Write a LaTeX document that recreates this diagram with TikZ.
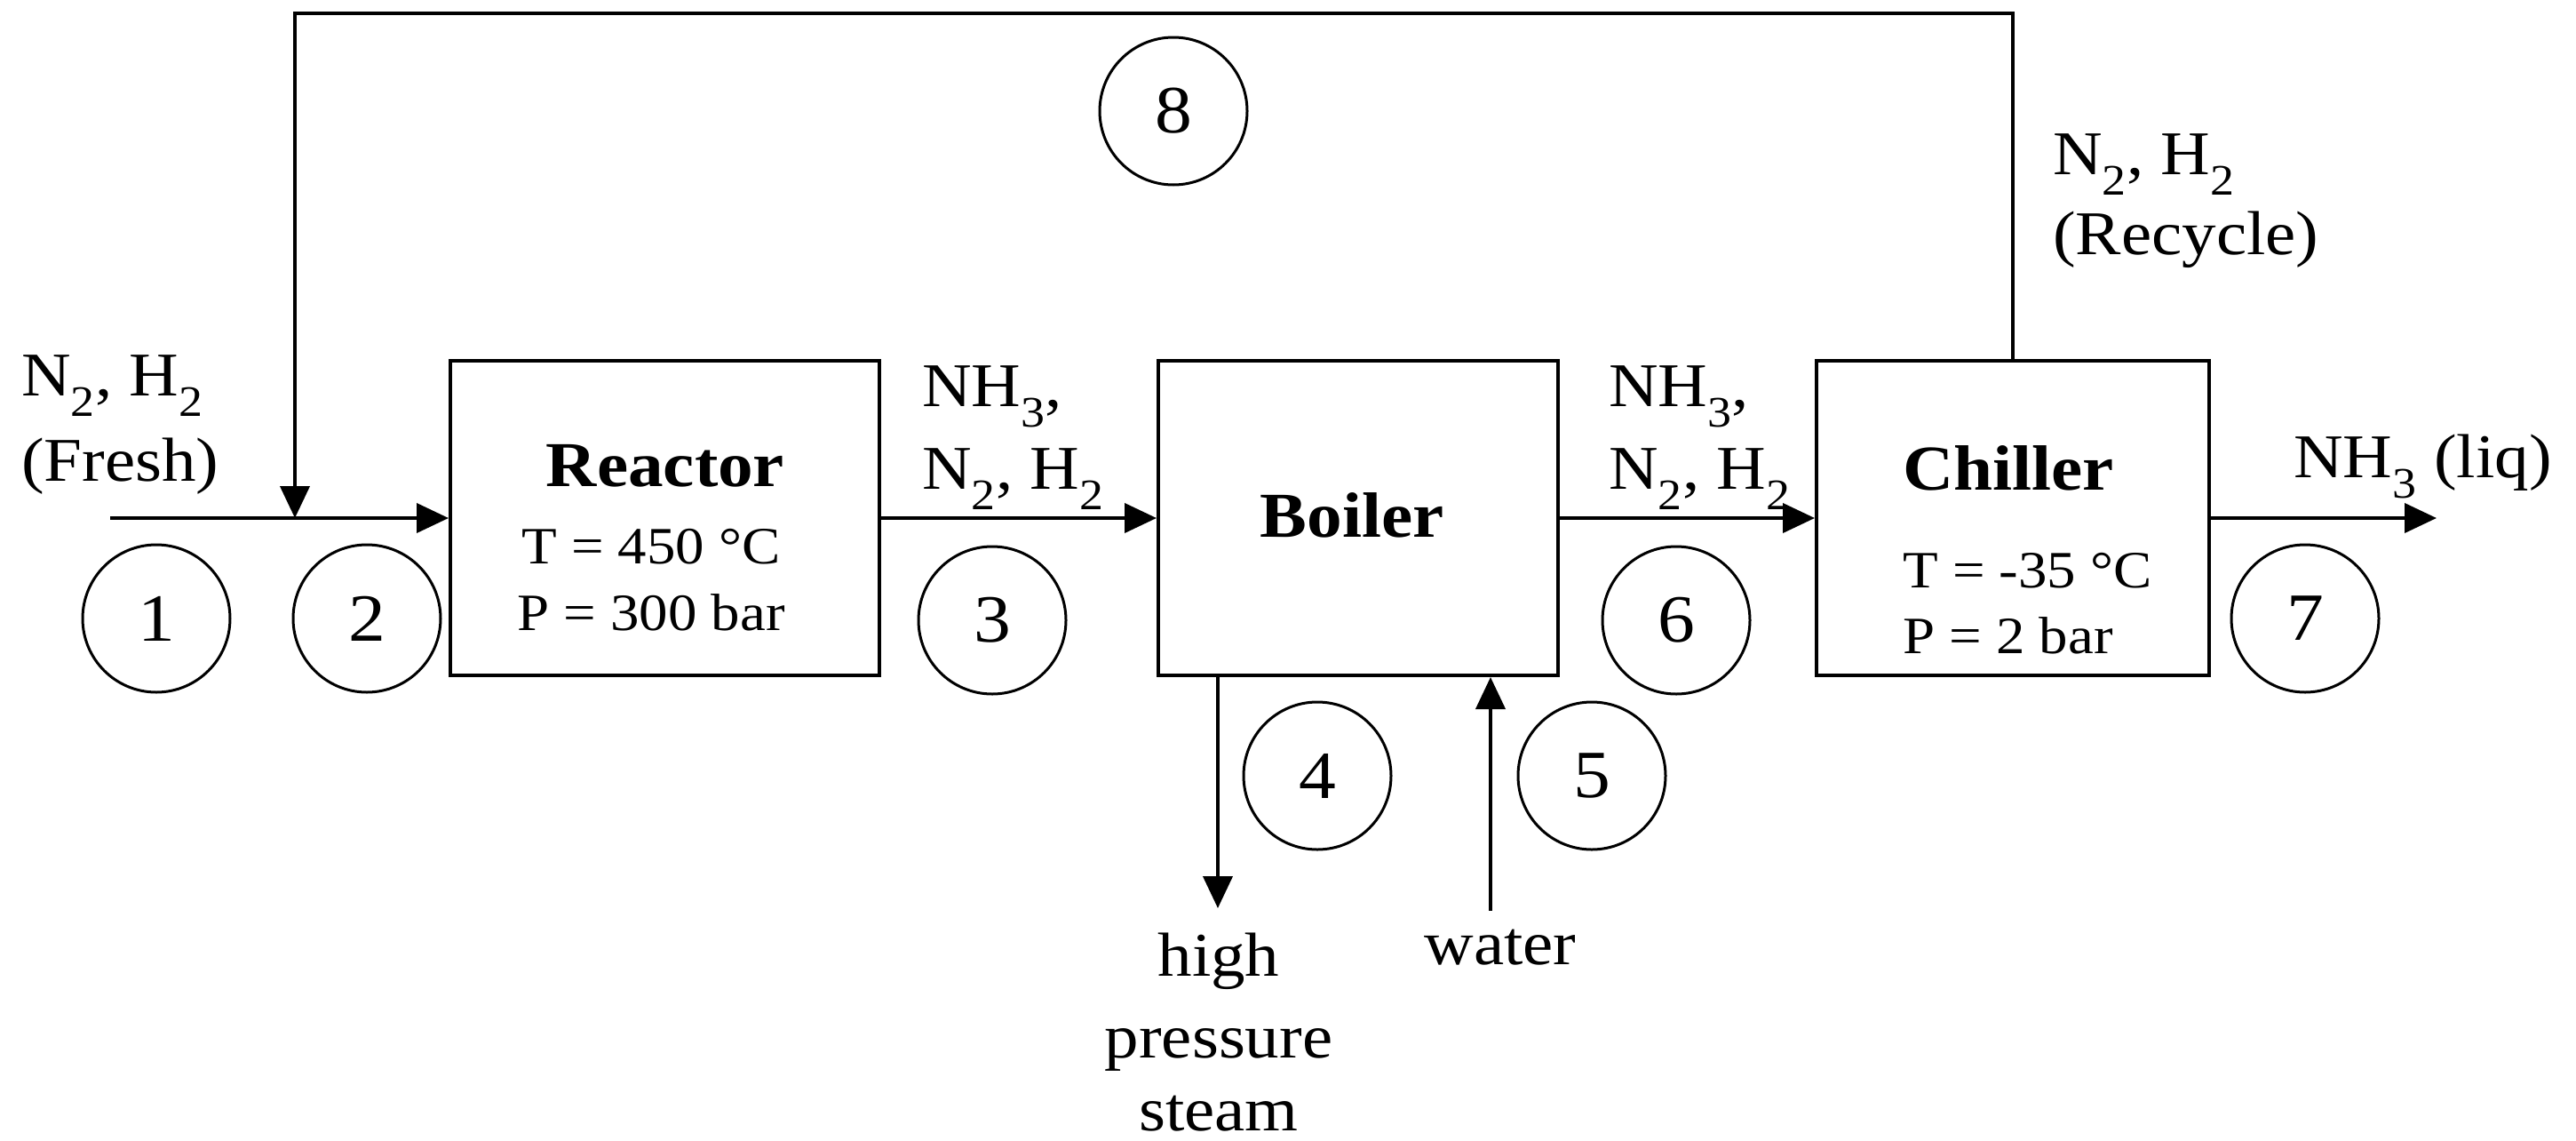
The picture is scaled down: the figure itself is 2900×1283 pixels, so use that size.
\documentclass[tikz,border=0pt]{standalone}
\usepackage{fontspec}
\setmainfont[FakeStretch=1.1]{Liberation Serif}
\usetikzlibrary{arrows.meta}
\newcommand{\sbs}[1]{\smash{\textsubscript{#1}}}
\begin{document}
\begin{tikzpicture}[x=1pt,y=-1pt,
  unit/.style={draw, line width=4pt, inner sep=0pt},
  num/.style={draw, circle, line width=3pt, minimum size=166pt, inner sep=0pt, font=\fontsize{76}{76}\selectfont},
  flow/.style={line width=4pt, -{Triangle[length=36pt,width=33pt]}},
  lbl/.style={inner sep=0pt, font=\fontsize{70}{80}\selectfont},
  par/.style={inner sep=0pt, font=\fontsize{59}{66}\selectfont},
  ttl/.style={inner sep=0pt, font=\fontsize{72}{72}\selectfont\bfseries}]
\useasboundingbox (0,0) rectangle (2900,1283);

% units
\node[unit, minimum width=483pt, minimum height=354pt] (reactor) at (748.5,583) {};
\node[unit, minimum width=450pt, minimum height=354pt] (boiler) at (1529,583) {};
\node[unit, minimum width=442pt, minimum height=354pt] (chiller) at (2266,583) {};

% unit texts
\node[ttl, anchor=base] (reactorT) at (749,547) {Reactor};
\node[par, anchor=base] (reactorA) at (733,634) {T = 450 °C};
\node[par, anchor=base] (reactorB) at (733,709) {P = 300 bar};
\node[ttl, anchor=base] (boilerT) at (1522,604) {Boiler};
\node[ttl, anchor=base west] (chillerT) at (2142,551) {Chiller};
\node[par, anchor=base west] (chillerA) at (2142,661) {T = -35 °C};
\node[par, anchor=base west] (chillerB) at (2142,735) {P = 2 bar};

% coordinates
\coordinate (fresh) at (124,583);
\coordinate (mix) at (332,583);
\coordinate (out) at (2743,583);
\coordinate (steamEnd) at (1371,1022);
\coordinate (waterStart) at (1678,1025);

% streams
\draw[flow] (fresh) -- (reactor.west);
\draw[flow] (reactor.east) -- (boiler.west);
\draw[flow] (boiler.east) -- (chiller.west);
\draw[flow] (chiller.east) -- (out);
\draw[flow] (steamEnd |- boiler.south) -- (steamEnd);
\draw[flow] (waterStart) -- (waterStart |- boiler.south);
\draw[flow] (chiller.north) -- (chiller.north |- 0,15) -- (mix |- 0,15) -- (mix);

% stream labels
\node[lbl, anchor=base west] (fr1) at (24,445) {N\sbs{2}, H\sbs{2}};
\node[lbl, anchor=base west] (fr2) at (24,541) {(Fresh)};
\node[lbl, anchor=base west] (s3a) at (1038,457) {NH\sbs{3},};
\node[lbl, anchor=base west] (s3b) at (1038,550) {N\sbs{2}, H\sbs{2}};
\node[lbl, anchor=base west] (s6a) at (1811,457) {NH\sbs{3},};
\node[lbl, anchor=base west] (s6b) at (1811,550) {N\sbs{2}, H\sbs{2}};
\node[lbl, anchor=base west] (rc1) at (2311,196) {N\sbs{2}, H\sbs{2}};
\node[lbl, anchor=base west] (rc2) at (2311,286) {(Recycle)};
\node[lbl, anchor=base west] (liq) at (2582,537) {NH\sbs{3} (liq)};
\node[lbl, anchor=base] (st1) at (1372,1098) {high};
\node[lbl, anchor=base] (st2) at (1372,1190) {pressure};
\node[lbl, anchor=base] (st3) at (1372,1272) {steam};
\node[lbl, anchor=base] (wt) at (1689,1085) {water};

% stream numbers
\node[num] (n1) at (176,696) {1};
\node[num] (n2) at (413,696) {2};
\node[num] (n3) at (1117,698) {3};
\node[num] (n4) at (1483,873) {4};
\node[num] (n5) at (1792,873) {5};
\node[num] (n6) at (1887,698) {6};
\node[num] (n7) at (2595,696) {7};
\node[num] (n8) at (1321,125) {8};
\end{tikzpicture}
\end{document}
